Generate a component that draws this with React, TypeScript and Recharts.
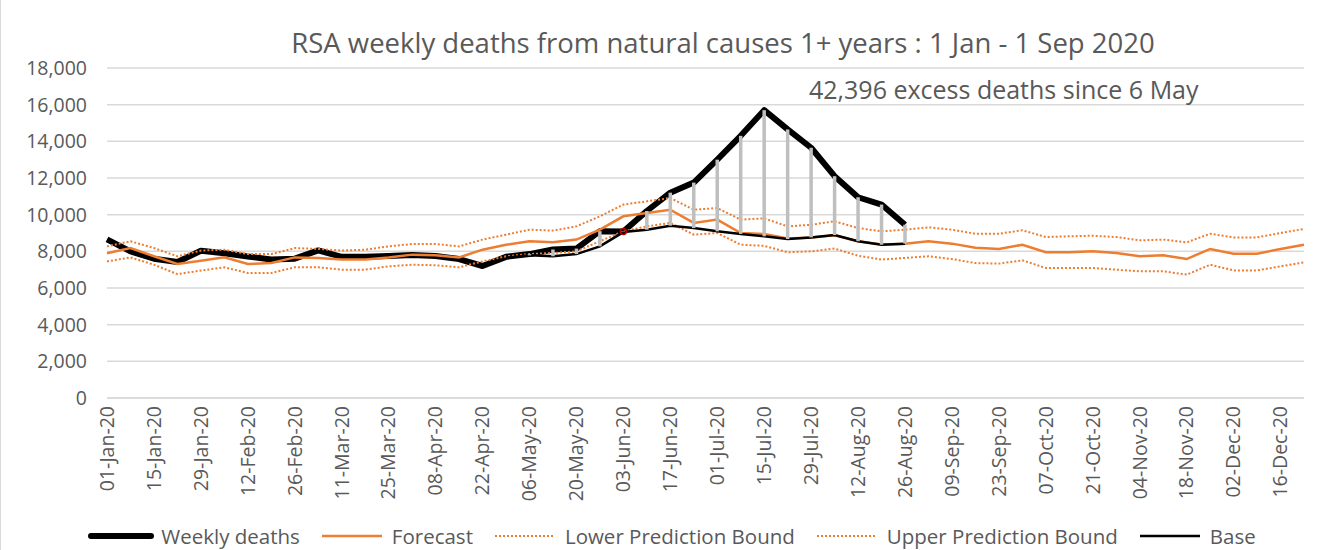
import React from "react";
import { LineChart, Line, XAxis, YAxis, CartesianGrid, Legend, ErrorBar } from "recharts";

document.body.style.margin = "0";

const FONT = "'Open Sans', 'Noto Sans', sans-serif";
const TEXT = "#595959";
const ORANGE = "#ED7D31";
const GRID = "#D9D9D9";

const weeks = [
  "01-Jan-20", "08-Jan-20", "15-Jan-20", "22-Jan-20", "29-Jan-20", "05-Feb-20", "12-Feb-20",
  "19-Feb-20", "26-Feb-20", "04-Mar-20", "11-Mar-20", "18-Mar-20", "25-Mar-20", "01-Apr-20",
  "08-Apr-20", "15-Apr-20", "22-Apr-20", "29-Apr-20", "06-May-20", "13-May-20", "20-May-20",
  "27-May-20", "03-Jun-20", "10-Jun-20", "17-Jun-20", "24-Jun-20", "01-Jul-20", "08-Jul-20",
  "15-Jul-20", "22-Jul-20", "29-Jul-20", "05-Aug-20", "12-Aug-20", "19-Aug-20", "26-Aug-20",
  "02-Sep-20", "09-Sep-20", "16-Sep-20", "23-Sep-20", "30-Sep-20", "07-Oct-20", "14-Oct-20",
  "21-Oct-20", "28-Oct-20", "04-Nov-20", "11-Nov-20", "18-Nov-20", "25-Nov-20", "02-Dec-20",
  "09-Dec-20", "16-Dec-20", "23-Dec-20",
];

// observed weekly deaths, 01-Jan to 26-Aug
const weeklyDeaths = [
  8650, 8000, 7600, 7420, 8030, 7900, 7720, 7550, 7600, 8050, 7700, 7700, 7750, 7800, 7750,
  7580, 7200, 7700, 7850, 8100, 8150, 9100, 9080, 10200, 11200, 11750, 13000, 14300, 15700,
  14650, 13650, 12100, 10950, 10550, 9450,
];

const forecast = [
  7900, 8180, 7730, 7310, 7490, 7670, 7310, 7360, 7670, 7640, 7550, 7550, 7670, 7820, 7780,
  7670, 8090, 8360, 8550, 8490, 8640, 9180, 9910, 10090, 10270, 9550, 9730, 9000, 8950, 8700,
  8760, 8880, 8550, 8370, 8420, 8550, 8420, 8200, 8130, 8360, 7950, 7950, 8000, 7910, 7730,
  7780, 7580, 8130, 7870, 7870, 8130, 8360,
];

const lowerBound = [
  7450, 7670, 7270, 6760, 6950, 7130, 6820, 6820, 7130, 7130, 7000, 7000, 7180, 7270, 7240,
  7130, 7450, 7730, 7850, 7910, 8000, 8550, 9090, 9360, 9550, 8910, 9000, 8360, 8300, 7950,
  8000, 8150, 7760, 7550, 7640, 7730, 7580, 7360, 7330, 7510, 7090, 7090, 7090, 7000, 6910,
  6910, 6730, 7270, 6960, 6960, 7180, 7400,
];

const upperBound = [
  8270, 8550, 8180, 7730, 8040, 8090, 7850, 7850, 8180, 8130, 8040, 8090, 8270, 8400, 8400,
  8270, 8640, 8910, 9180, 9130, 9360, 9910, 10550, 10730, 10910, 10270, 10360, 9730, 9800, 9360,
  9450, 9640, 9270, 9090, 9180, 9310, 9180, 8960, 8960, 9150, 8780, 8820, 8850, 8780, 8600,
  8640, 8490, 8960, 8760, 8760, 9000, 9220,
];

// base line, 29-Apr to 26-Aug
const base = [
  null, null, null, null, null, null, null, null, null, null, null, null, null, null, null,
  null, null, 7650, 7780, 7730, 7850, 8270, 9050, 9180, 9400, 9270, 9090, 8950, 8820, 8670,
  8760, 8890, 8550, 8360, 8420,
];

const excessFrom = "06-May-20";
const markerWeek = "03-Jun-20";
const yTicks = [0, 2000, 4000, 6000, 8000, 10000, 12000, 14000, 16000, 18000];

const startIdx = weeks.indexOf(excessFrom);
const data = weeks.map((week, i) => {
  const w = weeklyDeaths[i] ?? null;
  const b = base[i] ?? null;
  const hasExcess = w != null && b != null && i >= startIdx && w > b;
  return {
    week,
    weekly: w,
    forecast: forecast[i],
    lower: lowerBound[i],
    upper: upperBound[i],
    base: b,
    bars: hasExcess ? w : null,
    excess: hasExcess ? [w - b, 0] : null,
    marker: week === markerWeek ? w : null,
  };
});

const legendItems = [
  { label: "Weekly deaths", color: "#000000", width: 6, dash: undefined as string | undefined },
  { label: "Forecast", color: ORANGE, width: 2.5, dash: undefined },
  { label: "Lower Prediction Bound", color: ORANGE, width: 2, dash: "2 2" },
  { label: "Upper Prediction Bound", color: ORANGE, width: 2, dash: "2 2" },
  { label: "Base", color: "#000000", width: 2.5, dash: undefined },
];

function renderLegend() {
  return (
    <div
      style={{
        display: "flex",
        justifyContent: "center",
        alignItems: "center",
        height: 30,
        fontFamily: FONT,
        fontSize: 20.5,
        lineHeight: "24px",
        color: TEXT,
        paddingLeft: 56,
        transform: "translateY(1px)",
      }}
    >
      {legendItems.map((item) => (
        <div key={item.label} style={{ display: "flex", alignItems: "center", marginRight: 18 }}>
          <svg width={68} height={10}>
            <line
              x1={4}
              x2={64}
              y1={5}
              y2={5}
              stroke={item.color}
              strokeWidth={item.width}
              strokeDasharray={item.dash}
              strokeLinecap={item.width > 4 ? "round" : "butt"}
            />
          </svg>
          <span style={{ marginLeft: 6 }}>{item.label}</span>
        </div>
      ))}
    </div>
  );
}

function WeekTick(props: any) {
  const { x, y, payload } = props;
  return (
    <g transform={`translate(${x},${y})`}>
      <text
        transform="rotate(-90)"
        textAnchor="end"
        dy="0.35em"
        fill={TEXT}
        fontSize={19.5}
        fontFamily={FONT}
      >
        {payload.value}
      </text>
    </g>
  );
}

export default function App() {
  return (
    <div
      style={{
        position: "relative",
        width: 1319,
        height: 550,
        background: "#fff",
        boxSizing: "border-box",
        borderLeft: `1px solid ${GRID}`,
      }}
    >
      <div
        style={{
          position: "absolute",
          top: 25,
          left: 722,
          transform: "translateX(-50%)",
          whiteSpace: "nowrap",
          fontFamily: FONT,
          fontSize: 27.5,
          lineHeight: "36px",
          color: TEXT,
        }}
      >
        RSA weekly deaths from natural causes 1+ years : 1 Jan - 1 Sep 2020
      </div>
      <div
        style={{
          position: "absolute",
          top: 73,
          left: 808,
          whiteSpace: "nowrap",
          fontFamily: FONT,
          fontSize: 25,
          lineHeight: "32px",
          color: TEXT,
          zIndex: 2,
        }}
      >
        42,396 excess deaths since 6 May
      </div>
      <LineChart width={1319} height={550} data={data} margin={{ top: 68, right: 16, left: 0, bottom: 0 }}>
        <CartesianGrid vertical={false} stroke={GRID} strokeWidth={1.5} />
        <XAxis
          dataKey="week"
          interval={1}
          height={122}
          tickLine={false}
          axisLine={{ stroke: GRID, strokeWidth: 1.5 }}
          tick={<WeekTick />}
        />
        <YAxis
          domain={[0, 18000]}
          ticks={yTicks}
          width={106}
          axisLine={false}
          tickLine={false}
          tickMargin={14}
          tickFormatter={(v: number) => v.toLocaleString("en-US")}
          tick={{ fill: TEXT, fontSize: 19.5, fontFamily: FONT }}
        />
        <Legend verticalAlign="bottom" content={renderLegend} />
        <Line
          dataKey="weekly"
          stroke="#000"
          strokeWidth={6}
          dot={false}
          strokeLinejoin="round"
          isAnimationActive={false}
        />
        <Line dataKey="forecast" stroke={ORANGE} strokeWidth={2.5} dot={false} isAnimationActive={false} />
        <Line
          dataKey="lower"
          stroke={ORANGE}
          strokeWidth={2}
          strokeDasharray="2 2"
          dot={false}
          isAnimationActive={false}
        />
        <Line
          dataKey="upper"
          stroke={ORANGE}
          strokeWidth={2}
          strokeDasharray="2 2"
          dot={false}
          isAnimationActive={false}
        />
        <Line dataKey="base" stroke="#000" strokeWidth={2.5} dot={false} isAnimationActive={false} />
        <Line dataKey="bars" stroke="none" dot={false} legendType="none" isAnimationActive={false}>
          <ErrorBar dataKey="excess" width={0} stroke="#BFBFBF" strokeWidth={3.5} direction="y" isAnimationActive={false} />
        </Line>
        <Line
          dataKey="marker"
          stroke="none"
          dot={{ r: 3, stroke: "#C00000", strokeWidth: 1.5, fill: "none" }}
          legendType="none"
          isAnimationActive={false}
        />
      </LineChart>
    </div>
  );
}
